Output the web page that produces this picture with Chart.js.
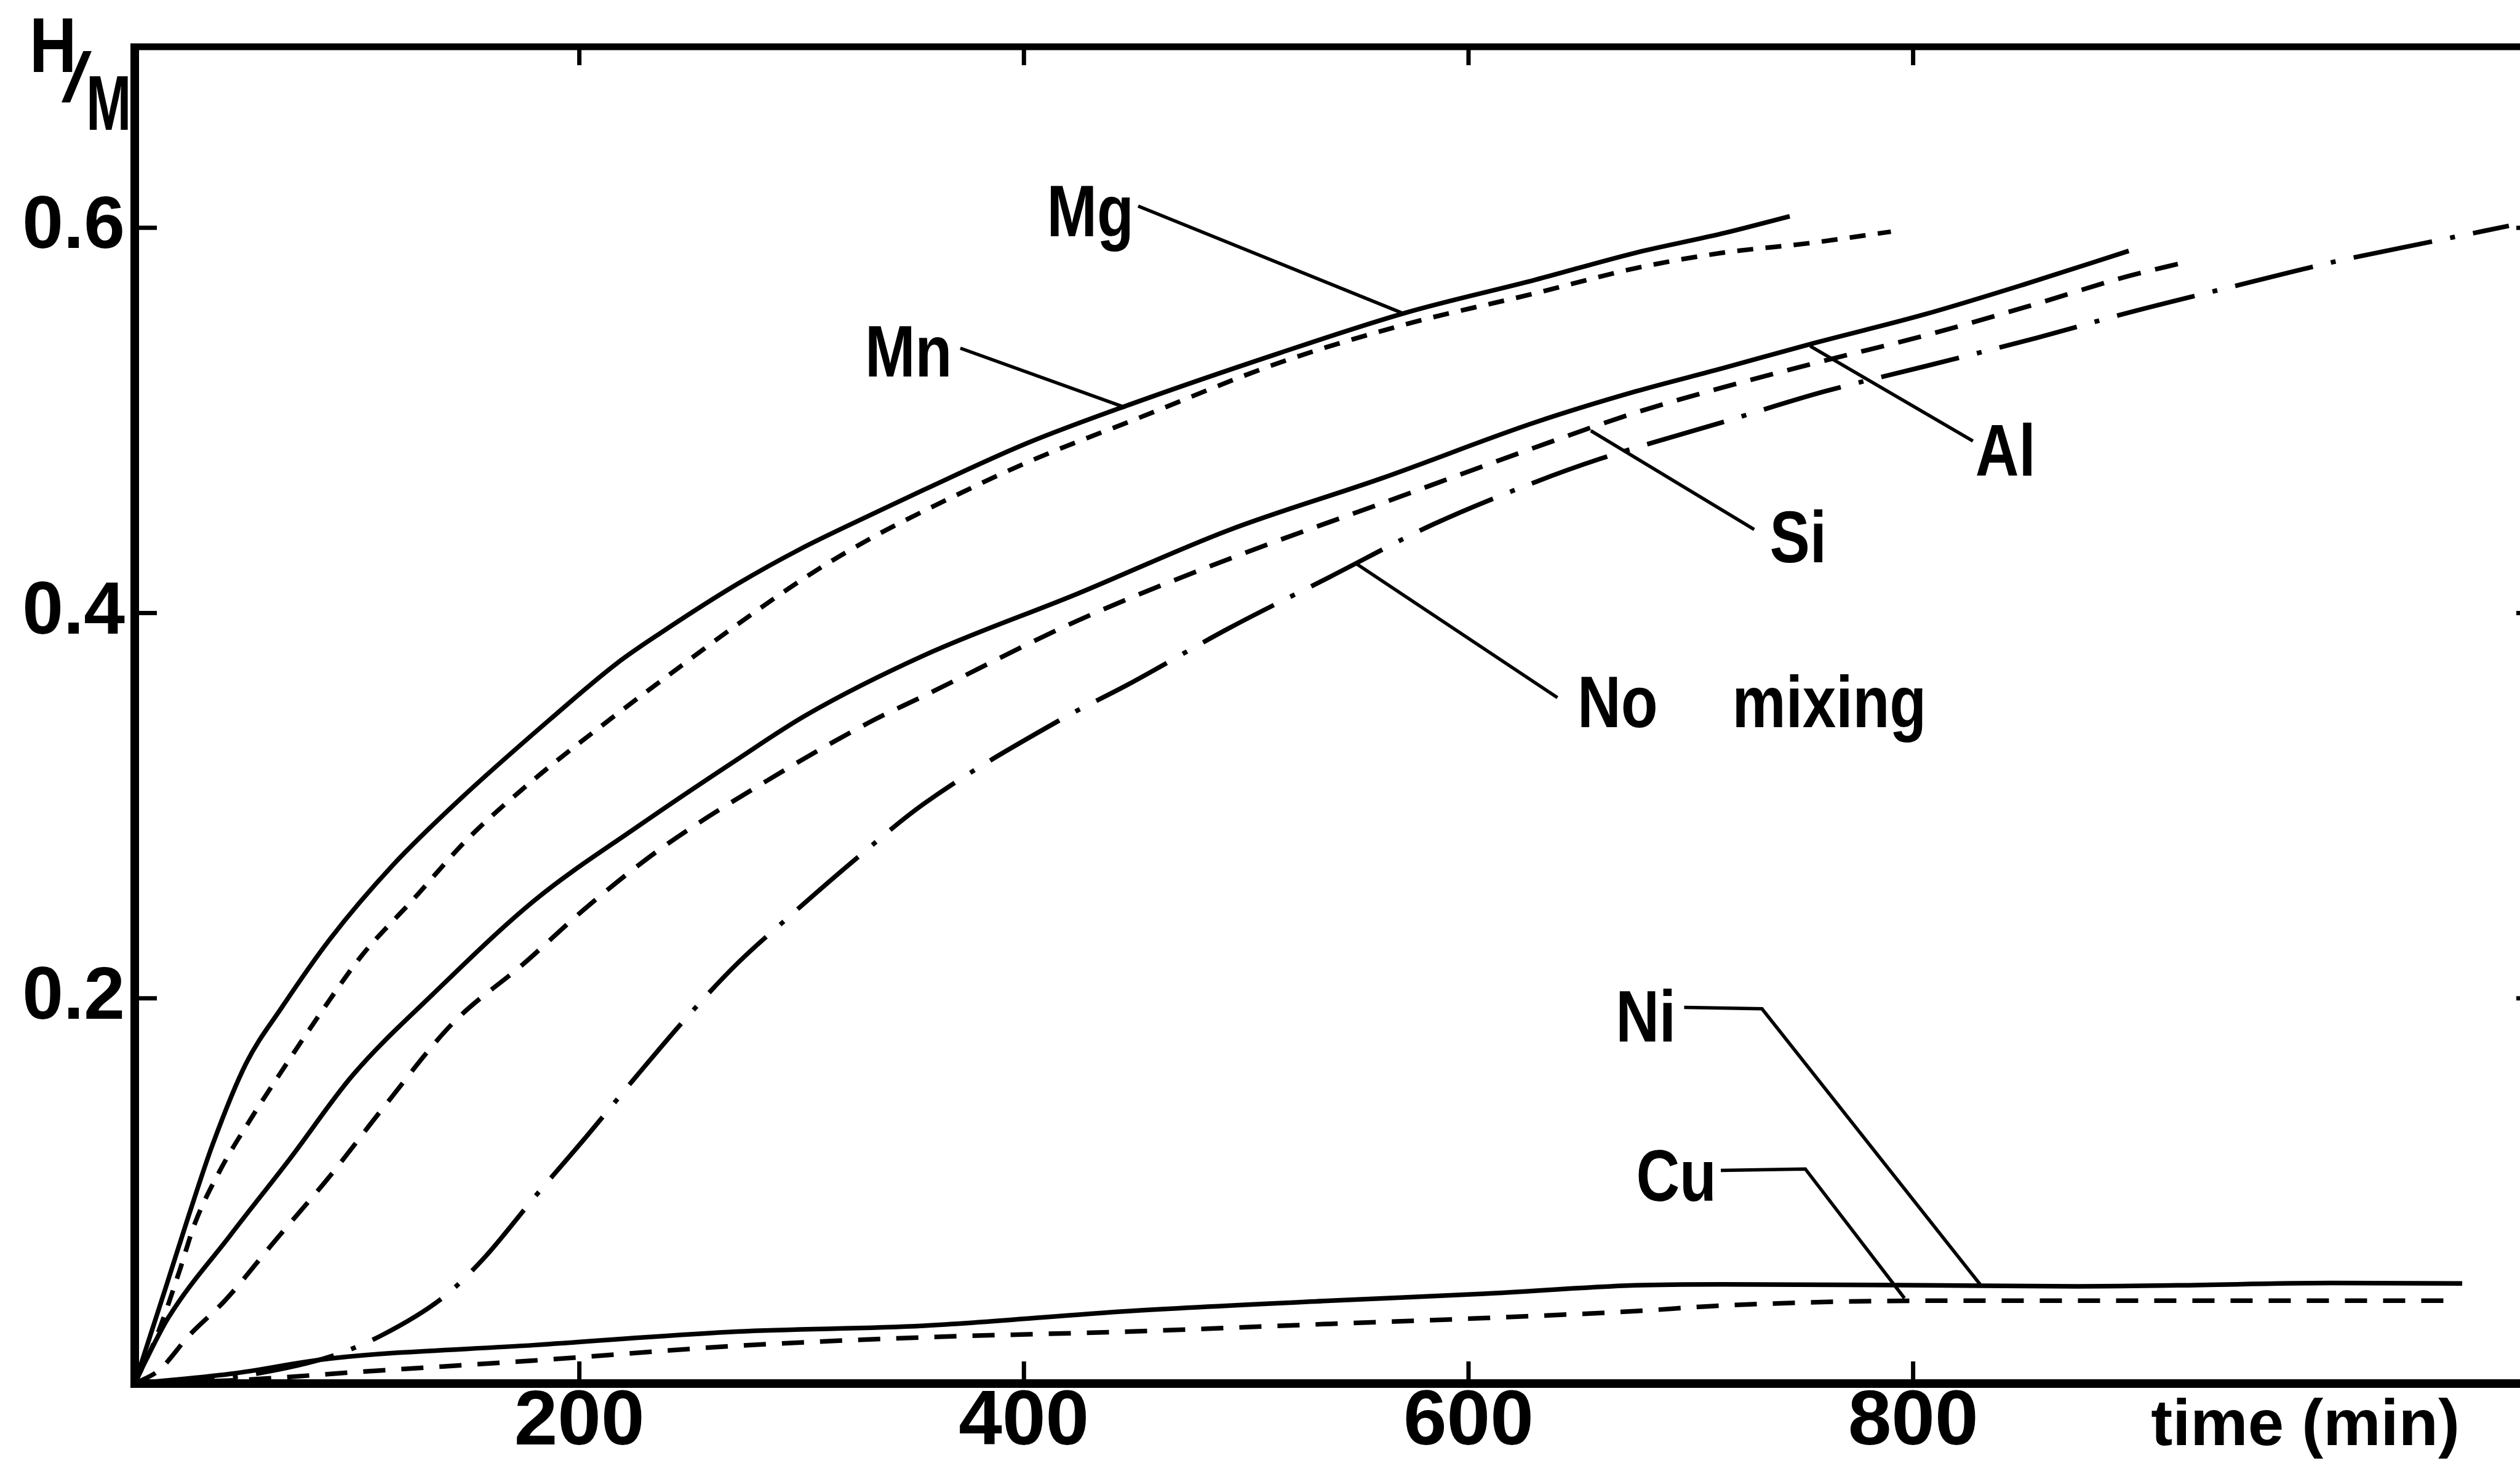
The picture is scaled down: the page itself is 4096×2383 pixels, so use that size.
<!DOCTYPE html>
<html><head><meta charset="utf-8">
<style>html,body{margin:0;padding:0;background:#fff;overflow:hidden}canvas{display:block}</style>
<script src="https://cdn.jsdelivr.net/npm/chart.js@4/dist/chart.umd.min.js"></script>
</head><body>
<canvas id="c" width="4096" height="2383"></canvas>
<script>
// ---- data (time in min, H/M ratio) ----
const xTicks = [200, 400, 600, 800];
const yTicks = [0.2, 0.4, 0.6];

const mgTime = [0,7,14,24.5,35,50,66,88,116,146,187,217,237,271,299,333,355,401,447,515,572,630,675,714,744.5];
const mgHM   = [0,0.025,0.05,0.088,0.124,0.166,0.195,0.231,0.269,0.303,0.345,0.374,0.390,0.415,0.433,0.452,0.464,0.488,0.508,0.535,0.556,0.573,0.587,0.597,0.606];

const mnTime = [0,10,20,27,39,52,66,84,102,125,150,180,214,237,271,305,333,355,401,451,515,572,630,675,714,753,790];
const mnHM   = [0,0.025,0.058,0.083,0.112,0.137,0.162,0.193,0.222,0.251,0.283,0.314,0.345,0.365,0.394,0.421,0.440,0.453,0.478,0.501,0.530,0.550,0.566,0.579,0.587,0.592,0.598];

const alTime = [0,5,15,43,70,98,134,180,226,271,302,355,424,492,561,630,675,714,755,805,851,897];
const alHM   = [0,0.012,0.034,0.077,0.117,0.160,0.202,0.251,0.289,0.324,0.347,0.378,0.410,0.443,0.470,0.499,0.515,0.527,0.540,0.555,0.571,0.588];

const siTime = [0,11,24.5,40.5,63,88,111,143,175,203,237,283,330,355,424,492,561,630,675,714,760,805,851,897,922];
const siHM   = [0,0.007,0.025,0.043,0.074,0.108,0.142,0.187,0.218,0.247,0.278,0.312,0.343,0.357,0.396,0.428,0.457,0.486,0.504,0.517,0.531,0.544,0.559,0.575,0.582];

const noMixTime = [0,25,54,88,111,139,157,180,203,226,249,271,294,324,355,417,447,492,538,584,630,659,714,760,805,856,897,942,988,1034,1068];
const noMixHM   = [0,0.001,0.005,0.014,0.025,0.045,0.065,0.097,0.128,0.160,0.191,0.218,0.242,0.272,0.301,0.345,0.363,0.392,0.419,0.446,0.468,0.480,0.499,0.515,0.528,0.543,0.556,0.569,0.582,0.593,0.601];

const niTime = [0,43,88,180,271,355,447,538,607,675,714,805,874,919,988,1047];
const niHM   = [0,0.005,0.013,0.020,0.027,0.030,0.0376,0.043,0.0466,0.051,0.0515,0.051,0.0505,0.051,0.0522,0.052];

const cuTime = [0,50,100,180,271,355,447,538,607,675,714,805,897,988,1043];
const cuHM   = [0,0.002,0.006,0.012,0.0196,0.024,0.027,0.031,0.034,0.0376,0.0405,0.043,0.043,0.043,0.043];

// curve labels (left edge time, baseline H/M) and leader lines
const labelText = ['Mg','Mn','Al','Si','No mixing','Ni','Cu'];
const labelTime = [410.3, 328.5, 828, 735.5, 649, 666.2, 675.4];
const labelHM   = [0.5955, 0.5228, 0.4713, 0.4265, 0.3408, 0.1775, 0.0947];
const leaderTime = [[451.4,571.4],[371.4,444.6],[753.7,826.9],[655,728.5],[549.8,640],[697,732,830.4],[713.5,751.5,796.1]];
const leaderHM   = [[0.6113,0.5552],[0.5375,0.5071],[0.5386,0.4893],[0.4947,0.4434],[0.4254,0.3561],[0.1953,0.1946,0.0511],[0.1107,0.1114,0.0443]];

const xTitle = 'time (min)';
const yTitleTop = 'H', yTitleSlash = '/', yTitleBottom = 'M';

// ---- chart ----
const pts = (t, v) => t.map((x, i) => ({x, y: v[i]}));
const FONT = '"Liberation Sans", Arial, sans-serif';

function drawText(ctx, text, x, y, size, sx, wordGap, weight) {
  ctx.save();
  ctx.translate(x, y);
  ctx.scale(sx, 1);
  ctx.font = (weight || 'bold') + ' ' + size + 'px ' + FONT;
  ctx.textAlign = 'left';
  ctx.textBaseline = 'alphabetic';
  ctx.fillStyle = '#000';
  if (wordGap && ('wordSpacing' in ctx)) ctx.wordSpacing = wordGap + 'px';
  ctx.fillText(text, 0, 0);
  ctx.restore();
}

const decor = {
  id: 'decor',
  beforeDatasetsDraw(chart) {
    const {ctx, chartArea: a, scales: {x, y}} = chart;
    ctx.save();
    ctx.strokeStyle = '#000';
    const line = (x1, y1, x2, y2) => { ctx.beginPath(); ctx.moveTo(x1, y1); ctx.lineTo(x2, y2); ctx.stroke(); };
    ctx.lineWidth = 14;
    line(a.left, a.top - 5, a.left, a.bottom + 7);
    line(a.left - 7, a.bottom, a.right, a.bottom);
    ctx.lineWidth = 11;
    line(a.left - 7, a.top, a.right, a.top);
    ctx.lineWidth = 7;
    xTicks.forEach(v => {
      const px = x.getPixelForValue(v);
      line(px, a.bottom, px, a.bottom - 36);
      line(px, a.top, px, a.top + 30);
    });
    yTicks.forEach(v => {
      const py = y.getPixelForValue(v);
      line(a.left, py, a.left + 36, py);
      line(a.right, py, a.right - 6, py);
    });
    ctx.restore();
  },
  afterDatasetsDraw(chart) {
    const {ctx, chartArea: a, scales: {x, y}} = chart;
    ctx.save();
    ctx.strokeStyle = '#000';
    ctx.lineWidth = 5.5;
    leaderTime.forEach((ts, i) => {
      ctx.beginPath();
      ts.forEach((t, j) => {
        const px = x.getPixelForValue(t), py = y.getPixelForValue(leaderHM[i][j]);
        if (j === 0) ctx.moveTo(px, py); else ctx.lineTo(px, py);
      });
      ctx.stroke();
    });
    labelText.forEach((txt, i) => {
      drawText(ctx, txt, x.getPixelForValue(labelTime[i]), y.getPixelForValue(labelHM[i]), 118, 0.83,
               txt.indexOf(' ') >= 0 ? 113 : 0);
    });
    // axis titles
    drawText(ctx, xTitle, x.getPixelForValue(907), a.bottom + 100, 105, 1.0);
    drawText(ctx, yTitleTop, 48, 117, 126, 0.84);
    drawText(ctx, yTitleSlash, 100, 165, 113, 1.56, 0, 'normal');
    drawText(ctx, yTitleBottom, 140, 211, 126, 0.7);
    ctx.restore();
  }
};

const ds = (label, t, v, dash) => ({
  label, data: pts(t, v), borderColor: '#000', borderWidth: 7.5, borderDash: dash,
  pointRadius: 0, fill: false, cubicInterpolationMode: 'monotone', borderCapStyle: 'butt'
});

new Chart(document.getElementById('c'), {
  type: 'line',
  data: {
    datasets: [
      ds('Mg', mgTime, mgHM, []),
      ds('Mn', mnTime, mnHM, [26, 20]),
      ds('Al', alTime, alHM, []),
      ds('Si', siTime, siHM, [38, 24]),
      ds('No mixing', noMixTime, noMixHM, [130, 30, 8, 30]),
      ds('Ni', niTime, niHM, []),
      ds('Cu', cuTime, cuHM, [36, 26])
    ]
  },
  options: {
    responsive: false, animation: false, devicePixelRatio: 1,
    layout: {padding: {top: 76, right: 0, left: 0, bottom: 0}},
    plugins: {legend: {display: false}, tooltip: {enabled: false}},
    scales: {
      x: {
        type: 'linear', min: 0, max: 1073,
        afterBuildTicks: s => { s.ticks = xTicks.map(v => ({value: v})); },
        afterFit: s => { s.height = 2383 - 2249; },
        grid: {display: false, drawTicks: false}, border: {display: false},
        ticks: {color: '#000', padding: 0, autoSkip: false, maxRotation: 0,
                font: {family: FONT, weight: 'bold', size: 127, lineHeight: 1},
                callback: v => String(v)}
      },
      y: {
        type: 'linear', min: 0, max: 0.694,
        afterBuildTicks: s => { s.ticks = yTicks.map(v => ({value: v})); },
        afterFit: s => { s.width = 219; },
        grid: {display: false, drawTicks: false}, border: {display: false},
        ticks: {color: '#000', padding: 16, autoSkip: false,
                font: {family: FONT, weight: 'bold', size: 120, lineHeight: 1},
                callback: v => Number(v).toFixed(1)}
      }
    }
  },
  plugins: [decor]
});
</script>
</body></html>
